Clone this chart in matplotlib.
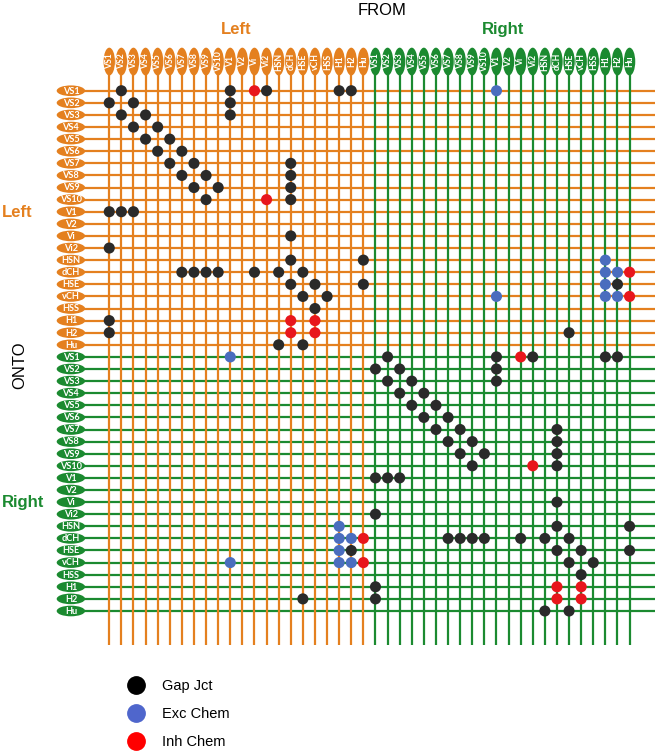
import matplotlib
matplotlib.use("Agg")
import matplotlib.pyplot as plt
from matplotlib.patches import Ellipse
from matplotlib.lines import Line2D

plt.rcParams['font.family'] = ['Liberation Sans', 'DejaVu Sans']

# neuron names, same order for left (0-21) and right (22-43) side
neurons = ['VS1', 'VS2', 'VS3', 'VS4', 'VS5', 'VS6', 'VS7', 'VS8', 'VS9', 'VS10',
           'V1', 'V2', 'Vi', 'Vi2', 'HSN', 'dCH', 'HSE', 'vCH', 'HSS', 'H1', 'H2', 'Hu']
sides = ['Left', 'Right']

# connections as (onto row, from column), index = side*22 + neuron
gap_jct = [(0, 1), (0, 10), (0, 13), (0, 19), (0, 20),
           (1, 0), (1, 2), (1, 10), (2, 1), (2, 3), (2, 10),
           (3, 2), (3, 4), (4, 3), (4, 5), (5, 4), (5, 6),
           (6, 5), (6, 7), (6, 15), (7, 6), (7, 8), (7, 15),
           (8, 7), (8, 9), (8, 15), (9, 8), (9, 15),
           (10, 0), (10, 1), (10, 2), (12, 15), (13, 0), (14, 15), (14, 21),
           (15, 6), (15, 7), (15, 8), (15, 9), (15, 12), (15, 14), (15, 16),
           (16, 15), (16, 17), (16, 21), (16, 42), (17, 16), (17, 18), (18, 17),
           (19, 0), (20, 0), (20, 38), (21, 14), (21, 16),
           (22, 23), (22, 32), (22, 35), (22, 41), (22, 42),
           (23, 22), (23, 24), (23, 32), (24, 23), (24, 25), (24, 32),
           (25, 24), (25, 26), (26, 25), (26, 27), (27, 26), (27, 28),
           (28, 27), (28, 29), (28, 37), (29, 28), (29, 30), (29, 37),
           (30, 29), (30, 31), (30, 37), (31, 30), (31, 37),
           (32, 22), (32, 23), (32, 24), (34, 37), (35, 22), (36, 37), (36, 43),
           (37, 28), (37, 29), (37, 30), (37, 31), (37, 34), (37, 36), (37, 38),
           (38, 20), (38, 37), (38, 39), (38, 43), (39, 38), (39, 40), (40, 39),
           (41, 22), (42, 16), (42, 22), (43, 36), (43, 38)]
exc_chem = [(0, 32), (14, 41), (15, 41), (15, 42), (16, 41), (17, 32), (17, 41), (17, 42),
            (22, 10), (36, 19), (37, 19), (37, 20), (38, 19), (39, 10), (39, 19), (39, 20)]
inh_chem = [(0, 12), (9, 13), (15, 43), (17, 43), (19, 15), (19, 17), (20, 15), (20, 17),
            (22, 34), (31, 35), (37, 21), (39, 21), (41, 37), (41, 39), (42, 37), (42, 39)]

orange = '#E4801F'
green = '#1B8A30'
side_colors = [orange, green]

fig = plt.figure(figsize=(6.62, 7.54), dpi=100)
ax = fig.add_axes([0, 0, 1, 1])
# one grid step = 12.1 px, column 0 at x=109 px, row 0 at y=91 px
ax.set_xlim(-9.03, 45.68)
ax.set_ylim(54.82, -7.5)
ax.axis('off')

n = len(neurons)
all_names = neurons * 2
for i, name in enumerate(all_names):
    col = side_colors[i // n]
    ax.plot([-3.2, 45.1], [i, i], color=col, lw=1.6, zorder=1, solid_capstyle='butt')
for i, name in enumerate(all_names):
    col = side_colors[i // n]
    ax.plot([i, i], [-2.4, 45.8], color=col, lw=1.6, zorder=2, solid_capstyle='butt')
    # row label (ONTO)
    ax.add_patch(Ellipse((-3.17, i), 2.35, 0.88, fc=col, ec='none', zorder=3))
    ax.text(-3.17, i + 0.03, name, color='white', fontsize=6.6, fontweight='bold',
            family='Lato', ha='center', va='center', zorder=4)
    # column label (FROM)
    ax.add_patch(Ellipse((i, -2.41), 0.94, 2.3, fc=col, ec='none', zorder=3))
    ax.text(i + 0.03, -2.41, name, color='white', fontsize=6.2, fontweight='bold',
            family='Lato', ha='center', va='center', rotation=90, zorder=4)

# connections
kinds = [('Gap Jct', gap_jct, '#2A2A2A', 'black'),
         ('Exc Chem', exc_chem, '#4A6DBE', '#4F66CC'),
         ('Inh Chem', inh_chem, '#E8161C', 'red')]
handles = []
for label, pairs, dot_col, leg_col in kinds:
    rows = [p[0] for p in pairs]
    cols = [p[1] for p in pairs]
    ax.scatter(cols, rows, s=64, color=dot_col, edgecolors='none', zorder=5)
    handles.append(Line2D([], [], marker='o', ls='', color=leg_col, markersize=12.5))

# titles
def px(x, y):
    return (x - 109.3) / 12.1, (y - 90.7) / 12.1

ax.text(*px(382, 10), 'FROM', fontsize=12, ha='center', va='center')
ax.text(*px(236, 29), sides[0], fontsize=12, fontweight='bold', color=orange,
        ha='center', va='center')
ax.text(*px(503, 29), sides[1], fontsize=12, fontweight='bold', color=green,
        ha='center', va='center')
ax.text(*px(20, 365), 'ONTO', fontsize=12, rotation=90, ha='center', va='center')
ax.text(*px(2, 212), sides[0], fontsize=12, fontweight='bold', color=orange,
        ha='left', va='center')
ax.text(*px(2, 502), sides[1], fontsize=12, fontweight='bold', color=green,
        ha='left', va='center')

fig.legend(handles, [k[0] for k in kinds], loc='upper left',
           bbox_to_anchor=(127 / 662, 1 - 679 / 754), frameon=False, fontsize=10.5,
           handlelength=1.2, handletextpad=1.2, labelspacing=0.95,
           borderpad=0, borderaxespad=0)

fig.savefig('out.png', dpi=100)
